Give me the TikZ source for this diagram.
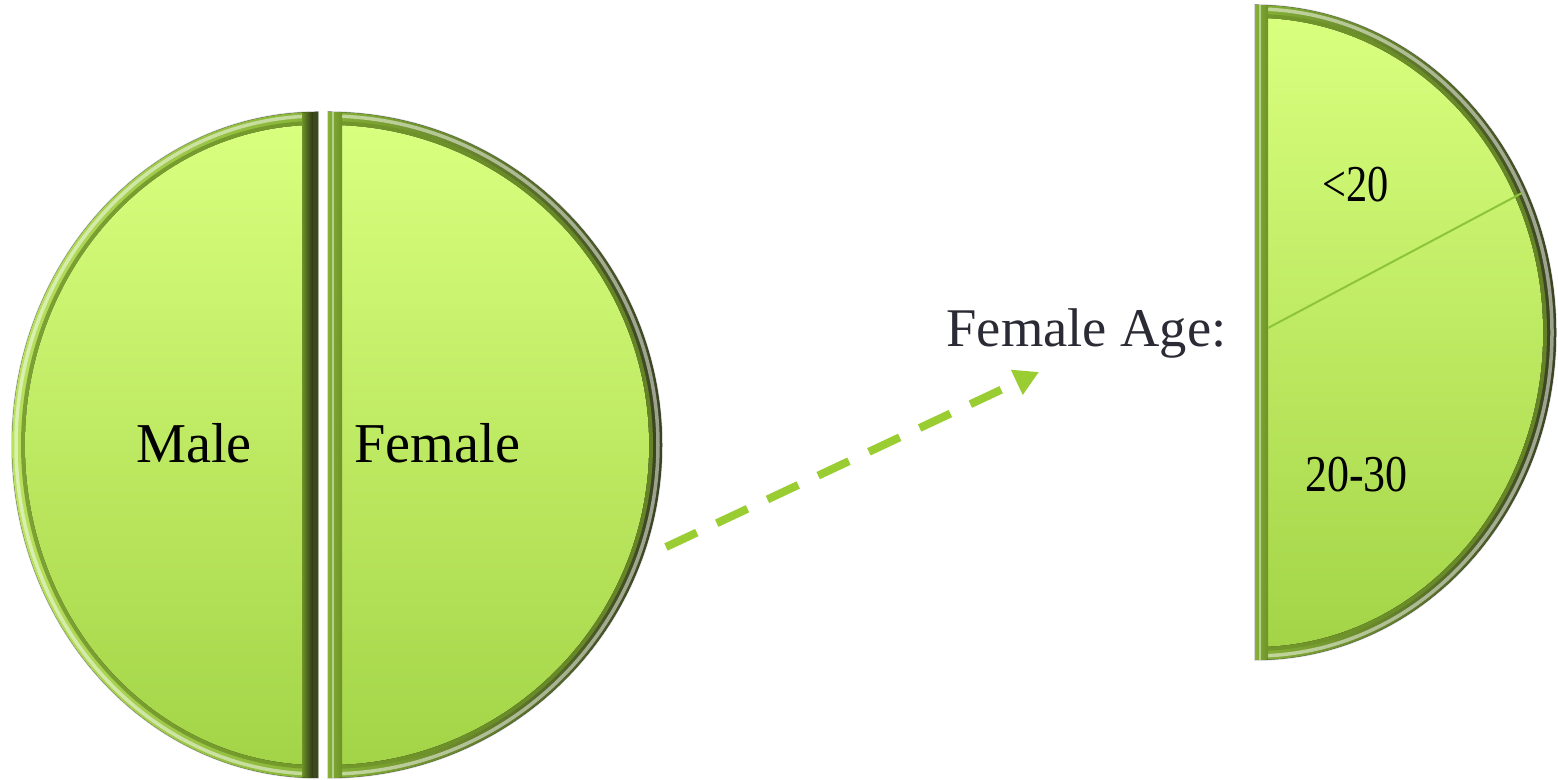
\documentclass[tikz,border=0pt]{standalone}
\usepackage[T1,TU]{fontenc}
\usepackage{fontspec}
\newfontfamily\numfont{Liberation Serif}
\newfontfamily\pieserif{Liberation Serif}
% Palatino-like face for the slice labels, with a plain serif as stand-in
\newcommand\palfont{\pieserif}
\IfFileExists{t1ppl.fd}{\IfFileExists{pplr8t.tfm}{\IfFileExists{uplr8a.pfb}{%
  \renewcommand\palfont{\fontencoding{T1}\fontfamily{ppl}\selectfont}}{}}{}}{}
\usetikzlibrary{arrows.meta}

\definecolor{faceTop}{HTML}{D9FF7E}
\definecolor{faceBot}{HTML}{A3D447}
\definecolor{rimLight}{HTML}{B8E25E}
\definecolor{rimMid}{HTML}{86B236}
\definecolor{rimDark}{HTML}{3A4420}
\definecolor{edgeDark}{HTML}{2E3618}
\definecolor{innerOlive}{HTML}{6E9228}
\definecolor{arrowGreen}{HTML}{9ACD32}
\definecolor{labelGray}{HTML}{2B2B35}
\definecolor{splitGreen}{HTML}{8EC43A}

\tikzset{
  % half ellipse bulging to the left, flat side at x = #1, shrunk by #5
  lhalf/.style n args={5}{insert path={
    ({#1+(#3-#5)*cos(90+asin(#5/(#3-#5)))},{#2+(#4-#5)*sin(90+asin(#5/(#3-#5)))})
    arc[start angle={90+asin(#5/(#3-#5))}, end angle={270-asin(#5/(#3-#5))},
        x radius={#3-#5}, y radius={#4-#5}] -- cycle}},
  % half ellipse bulging to the right, flat side at x = #1, shrunk by #5
  rhalf/.style n args={5}{insert path={
    ({#1+(#3-#5)*cos(-90+asin(#5/(#3-#5)))},{#2+(#4-#5)*sin(-90+asin(#5/(#3-#5)))})
    arc[start angle={-90+asin(#5/(#3-#5))}, end angle={90-asin(#5/(#3-#5))},
        x radius={#3-#5}, y radius={#4-#5}] -- cycle}},
  % the curved side only
  larc/.style n args={5}{insert path={
    ({#1+(#3-#5)*cos(90+asin(#5/(#3-#5)))},{#2+(#4-#5)*sin(90+asin(#5/(#3-#5)))})
    arc[start angle={90+asin(#5/(#3-#5))}, end angle={270-asin(#5/(#3-#5))},
        x radius={#3-#5}, y radius={#4-#5}]}},
  rarc/.style n args={5}{insert path={
    ({#1+(#3-#5)*cos(-90+asin(#5/(#3-#5)))},{#2+(#4-#5)*sin(-90+asin(#5/(#3-#5)))})
    arc[start angle={-90+asin(#5/(#3-#5))}, end angle={90-asin(#5/(#3-#5))},
        x radius={#3-#5}, y radius={#4-#5}]}},
  face/.style={top color=faceTop, bottom color=faceBot},
  glint/.style={draw=white, opacity=0.5, line width=0.35mm},
  innerline/.style={draw=innerOlive, opacity=0.8, line width=0.4mm},
  halo/.style={draw=black!22, line width=0.15mm},
  piefont/.style={font=\palfont\fontsize{16}{19}\selectfont, text=black},
  agefont/.style={font=\palfont\fontsize{15.5}{18}\selectfont, text=labelGray},
  numfont/.style={font=\numfont\fontsize{14.7}{18}\selectfont, text=black},
  agearrow/.style={draw=arrowGreen, line width=0.8mm,
    dash pattern=on 3.4mm off 2.2mm, dash phase=4.95mm,
    -{Triangle[length=2.45mm, width=2.6mm, fill=arrowGreen]}},
}

\begin{document}
\begin{tikzpicture}[x=0.01cm, y=0.01cm]
  \useasboundingbox (0,0) rectangle (1558,780);
  \fill[white] (0,0) rectangle (1558,780);

  % ---- Male slice ----
  \draw[halo][lhalf={318}{335}{306}{333}{0}];
  \fill[left color=rimLight, right color=rimMid][lhalf={318}{335}{306}{333}{0}];
  \draw[glint][larc={318}{335}{306}{333}{4}];
  \draw[innerline][larc={318}{335}{306}{333}{11}];
  \fill[face][lhalf={318}{335}{306}{333}{13}];
  \begin{scope}
    \clip[lhalf={318}{335}{306}{333}{0}];
    \fill[left color=innerOlive, right color=edgeDark] (302,0) rectangle (313,780);
    \fill[edgeDark!85!rimMid] (313,0) rectangle (318,780);
  \end{scope}

  % ---- Female slice ----
  \draw[halo][rhalf={328}{335}{334}{333}{0}];
  \fill[left color=rimMid, right color=rimDark][rhalf={328}{335}{334}{333}{0}];
  \draw[glint][rarc={328}{335}{334}{333}{4}];
  \draw[innerline][rarc={328}{335}{334}{333}{11}];
  \fill[face][rhalf={328}{335}{334}{333}{13}];
  \begin{scope}
    \clip[rhalf={328}{335}{334}{333}{0}];
    \fill[left color=rimMid, right color=innerOlive] (328,0) rectangle (342,780);
    \draw[white, opacity=0.45, line width=0.25mm] (333,0) -- (333,780);
  \end{scope}

  % ---- Female age slice ----
  \draw[halo][rhalf={1255}{447.5}{301}{327.5}{0}];
  \fill[left color=rimMid, right color=rimDark][rhalf={1255}{447.5}{301}{327.5}{0}];
  \draw[glint][rarc={1255}{447.5}{301}{327.5}{4}];
  \draw[innerline][rarc={1255}{447.5}{301}{327.5}{11}];
  \fill[face][rhalf={1255}{447.5}{301}{327.5}{13}];
  \begin{scope}
    \clip[rhalf={1255}{447.5}{301}{327.5}{0}];
    \fill[left color=rimMid, right color=innerOlive] (1255,0) rectangle (1268,780);
    \draw[white, opacity=0.45, line width=0.25mm] (1260,0) -- (1260,780);
  \end{scope}
  \coordinate (splitA) at (1268,452);
  \coordinate (splitB) at (1522,587);
  \draw[splitGreen, line width=0.2mm] (splitA) -- (splitB);

  % ---- labels ----
  \node[piefont, anchor=base] (male) at (194,317) {Male};
  \node[piefont, anchor=base] (female) at (437.5,317) {Female};
  \node[agefont, anchor=base] (agelabel) at (1086.5,433) {Female Age:};
  \node[numfont, anchor=base] (under20) at (1356,578) {\scalebox{0.82}[1]{<20}};
  \node[numfont, anchor=base] (twenty) at (1356.5,288) {\scalebox{0.85}[1]{20-30}};

  % ---- arrow ----
  \coordinate (arrowstart) at (660.1,230.2);
  \coordinate (arrowend) at (1039,408);
  \draw[agearrow] (arrowstart) -- (arrowend);
\end{tikzpicture}
\end{document}
